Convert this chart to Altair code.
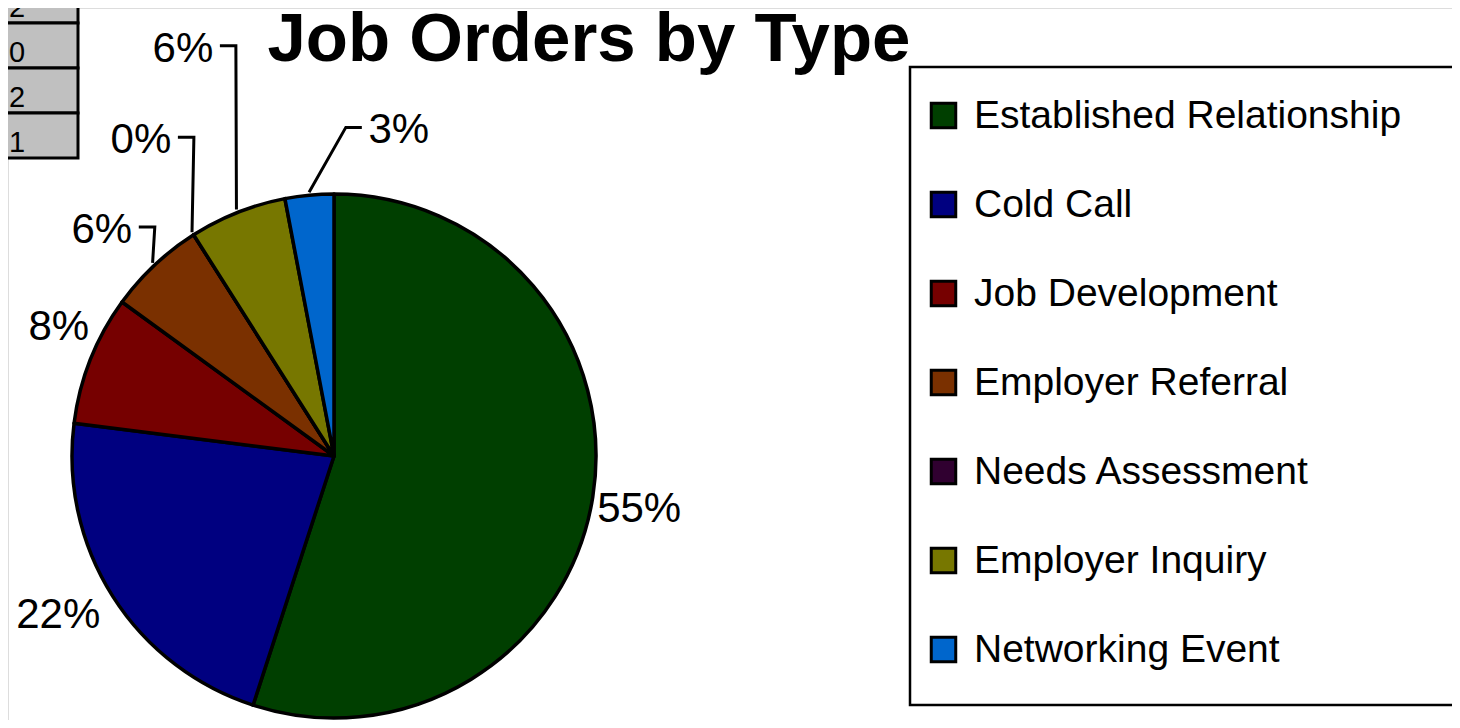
import math
import altair as alt
import pandas as pd

# ---------------- data ----------------
TITLE = "Job Orders by Type"
CATEGORIES = [
    "Established Relationship",
    "Cold Call",
    "Job Development",
    "Employer Referral",
    "Needs Assessment",
    "Employer Inquiry",
    "Networking Event",
]
PERCENTS = [55, 22, 8, 6, 0, 6, 3]
COLORS = ["#003F00", "#000080", "#760000", "#7A3000", "#300030", "#777700", "#0066CC"]
CELL_VALUES = [2, 0, 2, 1]

# ---------------- layout / style ----------------
W, H = 1444, 712           # drawing area (page has 8px margin)
OFF = 8                    # screen offset of the drawing
CX, CY = 334, 456          # pie centre (screen px)
R = 262                    # pie radius
LABEL_R = 310              # default radius of percentage labels
FONT = "Liberation Sans"

# per-label nudges (px) from the default radial position, as Excel placed them
LABEL_NUDGE = {
    "Established Relationship": (-1, 5),
    "Cold Call": (-14, -7),
    "Job Development": (13, -15),
    "Employer Referral": (-20, 0),
    "Needs Assessment": (-27, -54),
    "Employer Inquiry": (-37, -119),
    "Networking Event": (94, -17),
}
# leader lines: +1 = line leaves from the label's right side, -1 = left side
LEADER_SIDE = {
    "Employer Referral": 1,
    "Needs Assessment": 1,
    "Employer Inquiry": 1,
    "Networking Event": -1,
}

xs = alt.Scale(domain=[OFF, OFF + W], nice=False, zero=False)
ys = alt.Scale(domain=[OFF + H, OFF], nice=False, zero=False)

# ---------------- tables ----------------
pie_df = pd.DataFrame({
    "category": CATEGORIES,
    "value": PERCENTS,
    "order": list(range(len(CATEGORIES))),
})

total = float(sum(PERCENTS))
label_rows, leader_rows = [], []
cum = 0.0
for cat, v in zip(CATEGORIES, PERCENTS):
    mid = (cum + v / 2.0) / total * 2 * math.pi
    cum += v
    s, c = math.sin(mid), math.cos(mid)
    ndx, ndy = LABEL_NUDGE[cat]
    lx = CX + LABEL_R * s + ndx
    ly = CY - LABEL_R * c + ndy
    label_rows.append({"category": cat, "label": f"{v}%", "lx": lx, "ly": ly})
    if cat in LEADER_SIDE:
        side = LEADER_SIDE[cat]
        ax, ay = lx + side * 37, ly - 3
        bx, by = ax + side * 16, ay
        ex, ey = CX + (R + 3) * s, CY - (R + 3) * c
        for seq, (px, py) in enumerate([(ax, ay), (bx, by), (ex, ey)]):
            leader_rows.append({"category": cat, "seq": seq, "px": px, "py": py})

label_df = pd.DataFrame(label_rows)
leader_df = pd.DataFrame(leader_rows)

CELL_TOP, CELL_H = 23, 45
cell_df = pd.DataFrame({
    "v": [str(v) for v in CELL_VALUES],
    "x0": [-10] * len(CELL_VALUES),
    "x1": [78] * len(CELL_VALUES),
    "y0": [CELL_TOP + (i - 1) * CELL_H for i in range(len(CELL_VALUES))],
    "y1": [CELL_TOP + i * CELL_H for i in range(len(CELL_VALUES))],
})
cell_df["ty"] = cell_df["y1"] - 6
cell_df["tx"] = OFF + 1

# ---------------- layers ----------------
cells = alt.Chart(cell_df).mark_rect(fill="#C0C0C0", stroke="black", strokeWidth=3).encode(
    x=alt.X("x0:Q", scale=xs, axis=None),
    x2="x1:Q",
    y=alt.Y("y0:Q", scale=ys, axis=None),
    y2="y1:Q",
)
cell_text = alt.Chart(cell_df).mark_text(
    font=FONT, fontSize=29, align="left", baseline="alphabetic", color="black"
).encode(
    x=alt.X("tx:Q", scale=xs, axis=None),
    y=alt.Y("ty:Q", scale=ys, axis=None),
    text="v:N",
)

frame = alt.Chart(pd.DataFrame({"k": [0]})).mark_rect(
    filled=False, stroke="black", strokeWidth=2.5, fillOpacity=0
).encode(
    x=alt.value(910 - OFF), x2=alt.value(1500 - OFF),
    y=alt.value(67 - OFF), y2=alt.value(705 - OFF),
)

pie = alt.Chart(pie_df).mark_arc(
    radius=R, stroke="black", strokeWidth=3.5, strokeJoin="round"
).encode(
    theta=alt.Theta("value:Q", stack=True),
    order=alt.Order("order:Q"),
    color=alt.Color(
        "category:N",
        scale=alt.Scale(domain=CATEGORIES, range=COLORS),
        sort=CATEGORIES,
        legend=alt.Legend(
            title=None,
            orient="none",
            legendX=916,
            legendY=88,
            symbolType="square",
            symbolSize=600,
            symbolStrokeColor="black",
            symbolStrokeWidth=3,
            symbolOpacity=1,
            labelFont=FONT,
            labelFontSize=39,
            labelColor="black",
            labelOffset=11,
            labelLimit=0,
            rowPadding=49,
            padding=0,
        ),
    ),
    x=alt.value(CX - OFF),
    y=alt.value(CY - OFF),
)

leaders = alt.Chart(leader_df).mark_line(color="black", strokeWidth=3).encode(
    x=alt.X("px:Q", scale=xs, axis=None),
    y=alt.Y("py:Q", scale=ys, axis=None),
    detail="category:N",
    order="seq:Q",
)

labels = alt.Chart(label_df).mark_text(
    font=FONT, fontSize=42, align="center", baseline="middle", color="black"
).encode(
    x=alt.X("lx:Q", scale=xs, axis=None),
    y=alt.Y("ly:Q", scale=ys, axis=None),
    text="label:N",
)

chart = alt.layer(cells, cell_text, frame, pie, leaders, labels).properties(
    width=W,
    height=H,
    padding=0,
    autosize="none",
    title=alt.TitleParams(
        TITLE, font=FONT, fontSize=69, fontWeight="bold", color="black",
        anchor="start", dx=279, dy=98, offset=0,
    ),
).configure_view(strokeWidth=0).configure(background="white")

chart.save("out.html", embed_options={"renderer": "svg", "actions": False})
